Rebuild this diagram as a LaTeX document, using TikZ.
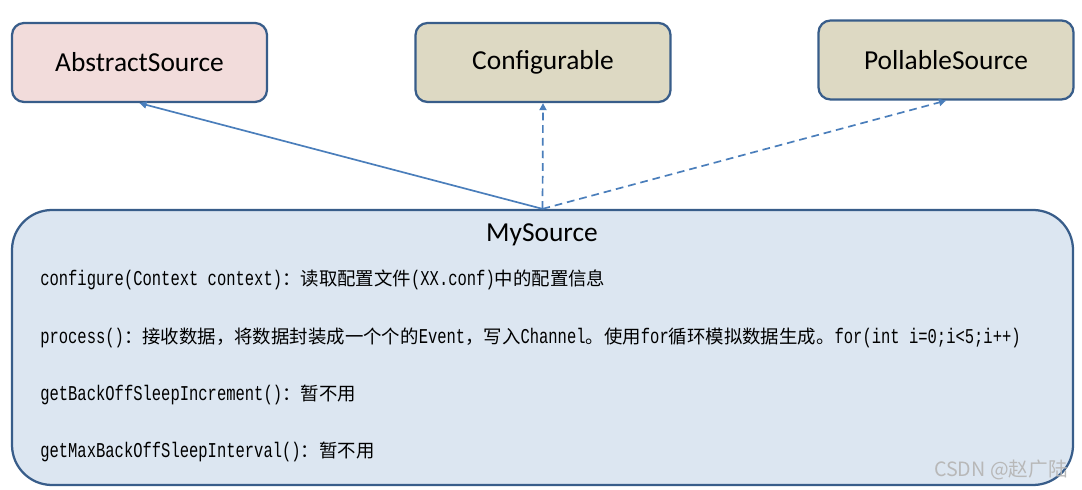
\documentclass[tikz,border=0pt]{standalone}
\usepackage{fontspec}
\setmainfont{Carlito}
\newfontfamily\cjk{Noto Sans CJK SC}
\newfontfamily\codefont[FakeStretch=0.735]{Liberation Mono}
\usetikzlibrary{arrows.meta}
\definecolor{rim}{HTML}{385D8A}
\definecolor{link}{HTML}{4A7EBB}
\definecolor{pinkfill}{HTML}{F2DCDB}
\definecolor{tanfill}{HTML}{DDD9C3}
\definecolor{bluefill}{HTML}{DCE6F1}
\newcommand{\px}{0.025cm}
\newcommand{\methfont}{\fontsize{13.1}{16}\selectfont}
\newcommand{\code}{\codefont\fontsize{15}{16}\selectfont}
\begin{document}
\begin{tikzpicture}[x=0.025cm, y=-0.025cm,
    classbox/.style={draw=rim, line width=1.6pt, rounded corners=0.3cm,
        minimum width=255*\px, minimum height=79*\px, font=\fontsize{19.5}{23}\selectfont},
    method/.style={anchor=west, inner sep=0pt, font=\methfont},
    link/.style={draw=link, line width=1.2pt, -{Triangle[length=5pt, width=5pt]}},
    realize/.style={link, dash pattern=on 5.5pt off 3.5pt}]
    \useasboundingbox (0,0) rectangle (1082,490);

    % parent types
    \node[classbox, fill=pinkfill] (abs) at (139.5,62.5) {AbstractSource};
    \node[classbox, fill=tanfill] (conf) at (543,62.5) {Configurable};
    \node[classbox, fill=tanfill] (poll) at (946,60) {PollableSource};

    % the source class itself
    \node[draw=rim, fill=bluefill, line width=1.6pt, rounded corners=1cm,
        minimum width=1061*\px, minimum height=275*\px] (my) at (542.5,347.5) {};
    \node[font=\fontsize{19.5}{23}\selectfont] (mytitle) at (542,235) {MySource};

    % methods
    \node[method] (m1) at (40,280) {{\code configure(Context context)}{\cjk ：读取配置文件}{\code (XX.conf)}{\cjk 中的配置信息}};
    \node[method] (m2) at (40,338) {{\code process()}{\cjk ：接收数据，将数据封装成一个个的}{\code Event}{\cjk ，写入}{\code Channel}{\cjk 。使用}{\code for}{\cjk 循环模拟数据生成。}{\code for(int i=0;i<5;i++)}};
    \node[method] (m3) at (40,395) {{\code getBackOffSleepIncrement()}{\cjk ：暂不用}};
    \node[method] (m4) at (40,452) {{\code getMaxBackOffSleepInterval()}{\cjk ：暂不用}};

    % watermark
    \node[anchor=east, inner sep=0pt, text=black!28, font=\cjk\fontsize{14}{16}\selectfont] (mark) at (1068,470) {CSDN @赵广陆};

    % inheritance and interfaces
    \draw[link] (my.north) -- (abs.south);
    \draw[realize] (my.north) -- (conf.south);
    \draw[realize] (my.north) -- (poll.south);
\end{tikzpicture}
\end{document}
